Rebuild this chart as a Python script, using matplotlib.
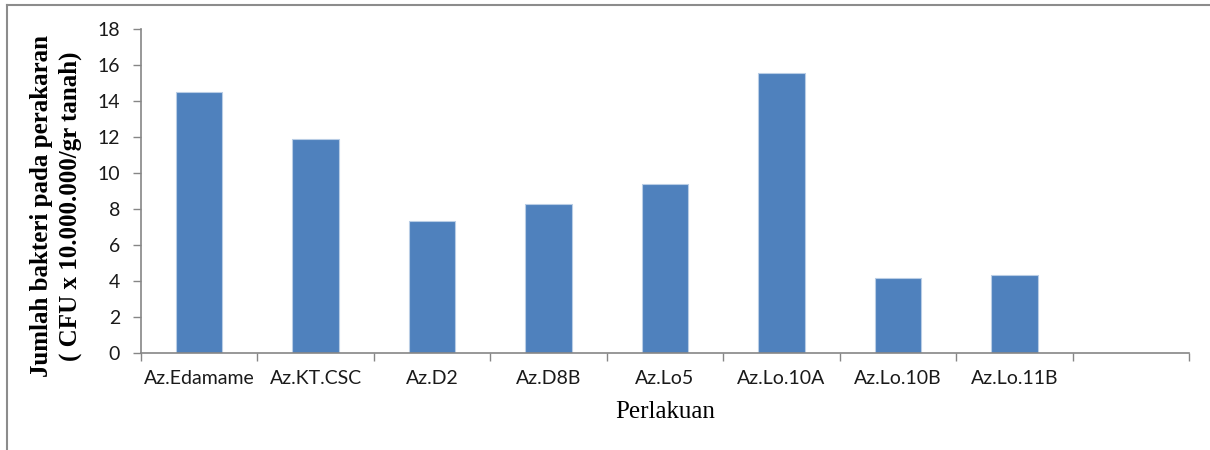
import matplotlib
matplotlib.use("Agg")
import matplotlib.pyplot as plt
from matplotlib.lines import Line2D

categories = ['Az.Edamame', 'Az.KT.CSC', 'Az.D2', 'Az.D8B', 'Az.Lo5',
              'Az.Lo.10A', 'Az.Lo.10B', 'Az.Lo.11B']
values = [14.5, 11.9, 7.35, 8.3, 9.4, 15.55, 4.17, 4.33]
n_slots = 9  # the original sheet has one empty slot at the end
y_ticks = list(range(0, 19, 2))

axis_gray = '#868686'
bar_blue = '#4F81BD'

fig = plt.figure(figsize=(12.1, 4.5), dpi=100)
ax = fig.add_axes([0.1165, 0.2156, 0.8661, 0.72])

x = list(range(len(categories)))
ax.bar(x, values, width=0.4, color=bar_blue, edgecolor='#B9CDE5', linewidth=0.8, zorder=2)

ax.set_xlim(-0.5, n_slots - 0.5)
ax.set_ylim(0, 18)
ax.set_yticks(y_ticks)

# boundary ticks between categories, labels at the centres
ax.set_xticks([i - 0.5 for i in range(n_slots + 1)])
ax.set_xticklabels([])
ax.set_xticks(x, minor=True)
ax.set_xticklabels(categories, minor=True)
ax.tick_params(axis='x', which='major', length=6, width=1, color=axis_gray, direction='out')
ax.tick_params(axis='x', which='minor', length=0, pad=12, labelsize=14, labelcolor='#1a1a1a')
ax.tick_params(axis='y', length=6, width=1, color=axis_gray, direction='out', pad=9,
               labelsize=14, labelcolor='#1a1a1a')
for lab in ax.get_xticklabels(minor=True) + ax.get_yticklabels():
    lab.set_fontfamily('Lato')

for side in ['top', 'right']:
    ax.spines[side].set_visible(False)
for side in ['left', 'bottom']:
    ax.spines[side].set_color(axis_gray)
    ax.spines[side].set_linewidth(1.2)

fig.text(0.5496, 1 - 412 / 450, 'Perlakuan', ha='center', va='center',
         fontfamily='Liberation Serif', fontsize=18)
fig.text(56 / 1210, 1 - 206 / 450,
         'Jumlah bakteri pada perakaran\n( CFU x 10.000.000/gr tanah)',
         rotation=90, ha='center', va='center', multialignment='center',
         fontfamily='Liberation Serif', fontweight='bold', fontsize=18, linespacing=1.3)

# frame lines along the top and left of the picture
fig.add_artist(Line2D([7 / 1210, 1209 / 1210], [1 - 5 / 450, 1 - 5 / 450],
                      color='#8c8c8c', linewidth=1.5, transform=fig.transFigure))
fig.add_artist(Line2D([7 / 1210, 7 / 1210], [0, 1 - 5 / 450],
                      color='#8c8c8c', linewidth=1.5, transform=fig.transFigure))

fig.savefig('out.png', dpi=100)
